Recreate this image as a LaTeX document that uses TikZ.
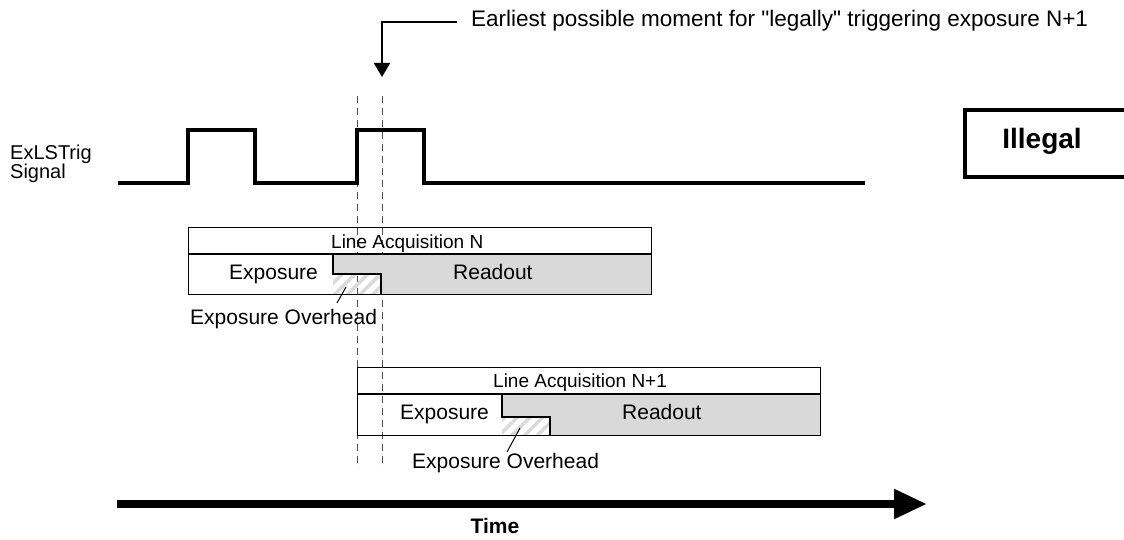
\documentclass[tikz,border=0pt]{standalone}
\usepackage{fontspec}
\setmainfont{Liberation Sans}
\newfontfamily\plainsans{Liberation Sans}
\usetikzlibrary{arrows.meta,patterns.meta}
\definecolor{rofill}{HTML}{D9D9D9}
\definecolor{hatchc}{HTML}{DADADA}
\definecolor{dashc}{HTML}{505050}
\tikzset{
  sig/.style={line width=3.5pt, line join=miter},
  acqbox/.style={draw, line width=1.3pt, anchor=north west, inner sep=0pt},
  stepline/.style={line width=1.3pt},
  grayarea/.style={fill=rofill},
  hatcharea/.style={pattern={Lines[angle=45,distance=9pt,line width=3.5pt]}, pattern color=hatchc},
  guide/.style={dashc, line width=0.9pt, dash pattern=on 7pt off 5pt},
  lbl/.style={inner sep=0pt, anchor=base west, font=\fontsize{21}{24}\selectfont},
  acqlbl/.style={inner sep=0pt, anchor=base west, font=\fontsize{19}{22}\selectfont},
  leader/.style={line width=1pt},
}
\begin{document}
\begin{tikzpicture}[x=1pt,y=-1pt]
\useasboundingbox (0,0) rectangle (1124,540);
\clip (0,0) rectangle (1124,540);

% callout
\node[inner sep=0pt, anchor=base west, font=\plainsans\fontsize{22.5}{26}\selectfont] (note) at (471,27) {Earliest possible moment for "legally" triggering exposure N+1};
\coordinate (noteL) at (457,22);
\coordinate (noteC) at (382,22);
\coordinate (noteT) at (382,77);
\draw[line width=2pt, -{Triangle[length=14pt,width=16pt]}] (noteL) -- (noteC) -- (noteT);

% guide lines
\coordinate (g1t) at (357,96); \coordinate (g1b) at (357,468);
\coordinate (g2t) at (382,96); \coordinate (g2b) at (382,468);
\draw[guide] (g1t) -- (g1b);
\draw[guide] (g2t) -- (g2b);

% signal
\node[inner sep=0pt, anchor=base west, align=left, font=\fontsize{20}{19}\selectfont] (siglbl) at (10,179) {ExLSTrig\\Signal};
\draw[sig] (118,183) -- (188,183) -- (188,130) -- (255,130) -- (255,183) -- (357,183) -- (357,130) -- (424,130) -- (424,183) -- (865,183);

% Line acquisition N
\fill[grayarea] (333,254) -- (651,254) -- (651,294) -- (381,294) -- (381,274) -- (333,274) -- cycle;
\fill[hatcharea] (333,274) rectangle (381,294);
\draw[stepline] (333,254) -- (333,274) -- (381,274) -- (381,294);
\node[acqbox, minimum width=463pt, minimum height=67pt] (boxN) at (188,227) {};
\draw[stepline] (188,254) -- (651,254);
\node[acqlbl] (titleN) at (331,248) {Line Acquisition N};
\node[lbl] (expN) at (229,279) {Exposure};
\node[lbl] (readN) at (453,279) {Readout};
\node[lbl] (ovhN) at (190,324) {Exposure Overhead};
\coordinate (ovhNa) at (346,287);
\coordinate (ovhNb) at (337,303);
\draw[leader] (ovhNa) -- (ovhNb);

% Line acquisition N+1
\fill[grayarea] (502,394) -- (820,394) -- (820,435) -- (550,435) -- (550,417) -- (502,417) -- cycle;
\fill[hatcharea] (502,417) rectangle (550,435);
\draw[stepline] (502,394) -- (502,417) -- (550,417) -- (550,435);
\node[acqbox, minimum width=463pt, minimum height=68pt] (boxN1) at (357,367) {};
\draw[stepline] (357,394) -- (820,394);
\node[acqlbl] (titleN1) at (493,387) {Line Acquisition N+1};
\node[lbl] (expN1) at (400,419) {Exposure};
\node[lbl] (readN1) at (622,419) {Readout};
\node[lbl] (ovhN1) at (412,468) {Exposure Overhead};
\coordinate (ovhN1a) at (520,428);
\coordinate (ovhN1b) at (507,452);
\draw[leader] (ovhN1a) -- (ovhN1b);

% illegal box
\node[draw, line width=4pt, anchor=north west, inner sep=0pt, minimum width=165pt, minimum height=67pt] (illbox) at (963,108) {};
\node[inner sep=0pt, anchor=base, font=\bfseries\fontsize{28}{32}\selectfont] (ill) at (1042,149) {Illegal};

% time axis
\coordinate (t0) at (117,504);
\coordinate (t1) at (927,504);
\draw[line width=8pt, -{Triangle[length=33pt,width=28pt]}] (t0) -- (t1);
\node[inner sep=0pt, anchor=base, font=\bfseries\fontsize{21}{24}\selectfont] (time) at (495,533) {Time};
\end{tikzpicture}
\end{document}
